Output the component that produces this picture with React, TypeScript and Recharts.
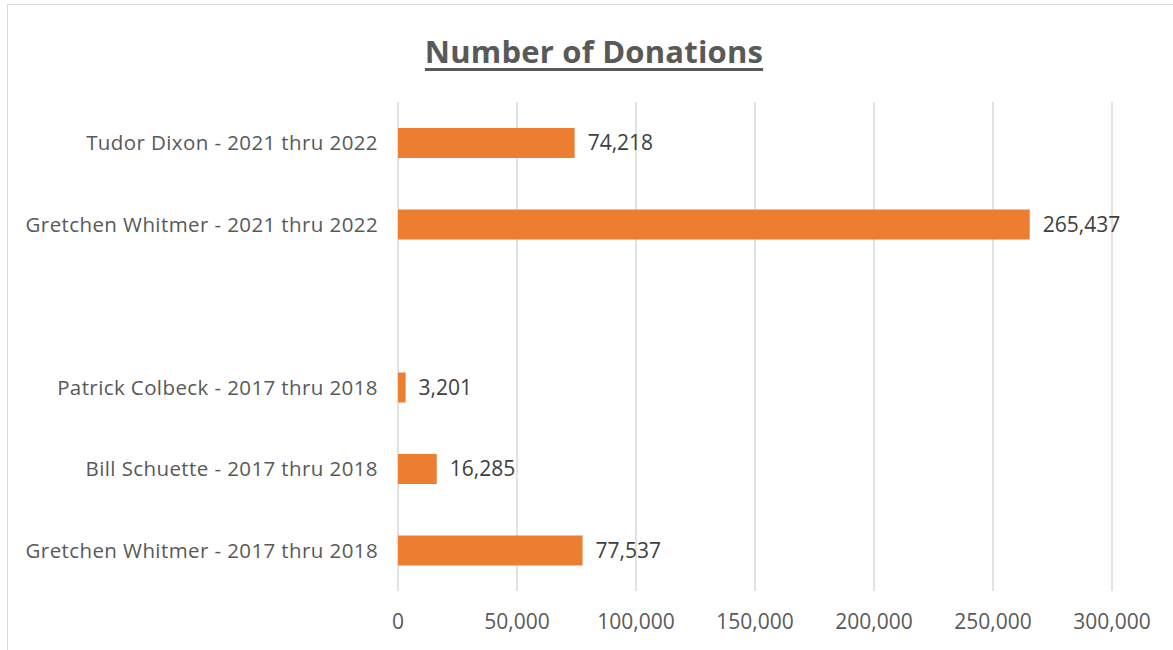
import { Bar, BarChart, CartesianGrid, LabelList, XAxis, YAxis } from 'recharts';

// candidates, top to bottom; the blank row is the gap between the two elections
const candidates = [
  'Tudor Dixon - 2021 thru 2022',
  'Gretchen Whitmer - 2021 thru 2022',
  '',
  'Patrick Colbeck - 2017 thru 2018',
  'Bill Schuette - 2017 thru 2018',
  'Gretchen Whitmer - 2017 thru 2018',
];

const donations: (number | null)[] = [74218, 265437, null, 3201, 16285, 77537];

const xTicks = [0, 50000, 100000, 150000, 200000, 250000, 300000];

const chartData = candidates.map((name, i) => ({ name, donations: donations[i] }));

const fontFamily = '"Open Sans", Lato, sans-serif';
const textColor = '#595959';

const fmt = (v: unknown) => (typeof v === 'number' ? v.toLocaleString('en-US') : '');

export default function App() {
  return (
    <div
      style={{
        position: 'absolute',
        left: 7,
        top: 4,
        width: 1170,
        height: 650,
        borderLeft: '1px solid #d9d9d9',
        borderTop: '1px solid #d9d9d9',
        background: '#fff',
        fontFamily,
      }}
    >
      <div
        style={{
          position: 'absolute',
          left: 0,
          top: 25,
          width: 1172,
          textAlign: 'center',
          fontSize: 31,
          letterSpacing: 0.2,
          fontWeight: 700,
          color: textColor,
          textDecoration: 'underline',
          textUnderlineOffset: 5,
        }}
      >
        Number of Donations
      </div>
      <BarChart
        width={1165}
        height={645}
        data={chartData}
        layout="vertical"
        margin={{ top: 97, right: 61, left: 0, bottom: 19 }}
        barSize={30}
      >
        <CartesianGrid horizontal={false} stroke="#d9d9d9" strokeWidth={1.5} />
        <XAxis
          type="number"
          domain={[0, 300000]}
          ticks={xTicks}
          tickFormatter={fmt}
          axisLine={false}
          tickLine={false}
          tickMargin={17}
          height={40}
          tick={{ fontSize: 21, fill: textColor, fontFamily }}
          interval={0}
        />
        <YAxis
          type="category"
          dataKey="name"
          width={390}
          axisLine={false}
          tickLine={false}
          tickMargin={14}
          interval={0}
          tick={{ fontSize: 20.5, letterSpacing: 0.4, fill: textColor, fontFamily }}
        />
        <Bar dataKey="donations" fill="#ED7D31" isAnimationActive={false}>
          <LabelList
            dataKey="donations"
            position="right"
            offset={13}
            formatter={fmt}
            style={{ fontSize: 21, fill: '#404040', fontFamily }}
          />
        </Bar>
      </BarChart>
    </div>
  );
}
